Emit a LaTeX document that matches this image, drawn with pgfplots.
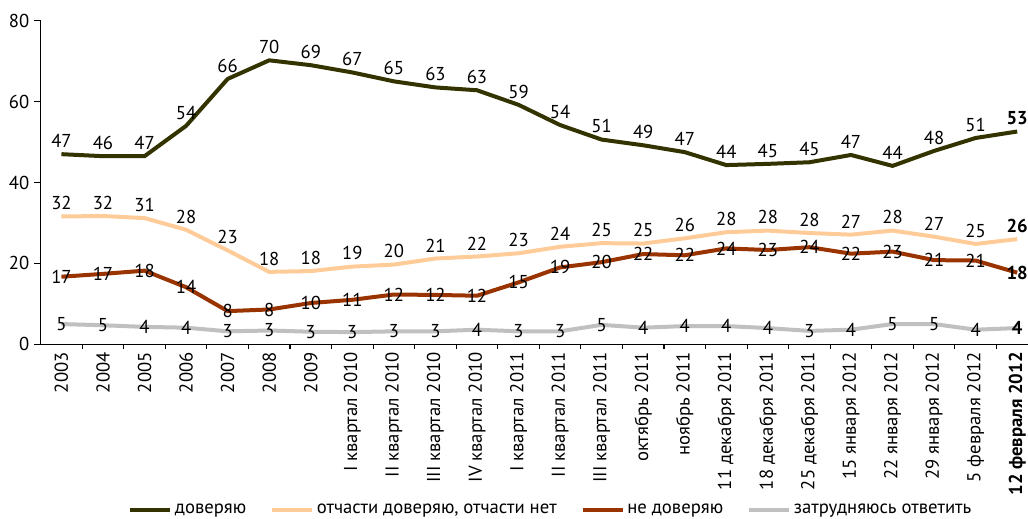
\documentclass[border=0pt]{standalone}
\usepackage{pgfplots}
\pgfplotsset{compat=1.18}
\usepackage{fontspec}
\setmainfont{PT Sans}
\definecolor{cTrust}{HTML}{333300}
\definecolor{cPart}{HTML}{FFCC99}
\definecolor{cNo}{HTML}{993300}
\definecolor{cDk}{HTML}{C0C0C0}

\begin{document}
\begin{tikzpicture}
\begin{axis}[
    scale only axis,
    width=740.5pt, height=242.7pt,
    xmin=-0.5, xmax=23.26, ymin=0, ymax=80,
    clip=false,
    axis lines=left,
    axis line style={-, black, line width=0.8pt},
    font=\fontsize{14}{16}\selectfont,
    ytick={0,20,40,60,80},
    ytick align=outside,
    yticklabel style={/pgf/number format/assume math mode=true},
    ytick style={black, line width=0.8pt},
    major tick length=5pt,
    xtick={0,...,23},
    xtick style={draw=none},
    xticklabels={2003,2004,2005,2006,2007,2008,2009,
        I квартал 2010,II квартал 2010,III квартал 2010,IV квартал 2010,
        I квартал 2011,II квартал 2011,III квартал 2011,
        октябрь 2011,ноябрь 2011,
        11 декабря 2011,18 декабря 2011,25 декабря 2011,
        15 января 2012,22 января 2012,29 января 2012,
        5 февраля 2012,\textbf{12 февраля 2012}},
    x tick label style={rotate=90, anchor=east},
    unbounded coords=jump,
    legend columns=4,
    legend style={at={(0.517,-0.512)}, anchor=center, draw=none,
        font=\fontsize{14}{16}\selectfont,
        /tikz/every even column/.append style={column sep=16pt}},
    legend image code/.code={\draw[#1, line width=3pt] (0pt,0pt) -- (30pt,0pt);},
    every node near coord/.append style={text=black},
]
% category separators on the x axis
\addplot[black, line width=0.8pt, forget plot] coordinates {
    (0.5,0) (0.5,-1.2) (nan,nan) (1.5,0) (1.5,-1.2) (nan,nan)
    (2.5,0) (2.5,-1.2) (nan,nan) (3.5,0) (3.5,-1.2) (nan,nan)
    (4.5,0) (4.5,-1.2) (nan,nan) (5.5,0) (5.5,-1.2) (nan,nan)
    (6.5,0) (6.5,-1.2) (nan,nan) (7.5,0) (7.5,-1.2) (nan,nan)
    (8.5,0) (8.5,-1.2) (nan,nan) (9.5,0) (9.5,-1.2) (nan,nan)
    (10.5,0) (10.5,-1.2) (nan,nan) (11.5,0) (11.5,-1.2) (nan,nan)
    (12.5,0) (12.5,-1.2) (nan,nan) (13.5,0) (13.5,-1.2) (nan,nan)
    (14.5,0) (14.5,-1.2) (nan,nan) (15.5,0) (15.5,-1.2) (nan,nan)
    (16.5,0) (16.5,-1.2) (nan,nan) (17.5,0) (17.5,-1.2) (nan,nan)
    (18.5,0) (18.5,-1.2) (nan,nan) (19.5,0) (19.5,-1.2) (nan,nan)
    (20.5,0) (20.5,-1.2) (nan,nan) (21.5,0) (21.5,-1.2) (nan,nan)
    (22.5,0) (22.5,-1.2)
};
% доверяю
\addplot[cTrust, line width=3pt, point meta=explicit symbolic, nodes near coords] coordinates {
    (0,47)[47] (1,46.5)[46] (2,46.5)[47] (3,54)[54] (4,65.6)[66] (5,70.2)[70]
    (6,69)[69] (7,67.2)[67] (8,65)[65] (9,63.5)[63] (10,62.8)[63] (11,59.2)[59]
    (12,54.2)[54] (13,50.6)[51] (14,49.2)[49] (15,47.5)[47] (16,44.3)[44]
    (17,44.6)[45] (18,45)[45] (19,46.8)[47] (20,44.1)[44] (21,47.8)[48]
    (22,51)[51] (23,52.6)[\textbf{53}]
};
% отчасти
\addplot[cPart, line width=3pt, point meta=explicit symbolic, nodes near coords] coordinates {
    (0,31.6)[32] (1,31.7)[32] (2,31.2)[31] (3,28.3)[28] (4,23.2)[23] (5,17.9)[18]
    (6,18.1)[18] (7,19.2)[19] (8,19.7)[20] (9,21.2)[21] (10,21.7)[22] (11,22.5)[23]
    (12,24.1)[24] (13,25)[25] (14,24.9)[25] (15,26.2)[26] (16,27.7)[28]
    (17,28.1)[28] (18,27.5)[28] (19,27.1)[27] (20,28.1)[28] (21,26.6)[27]
    (22,24.8)[25] (23,26)[\textbf{26}]
};
% не доверяю
\addplot[cNo, line width=3pt, point meta=explicit symbolic, nodes near coords,
    every node near coord/.append style={anchor=center}] coordinates {
    (0,16.7)[17] (1,17.4)[17] (2,18.2)[18] (3,14.1)[14] (4,8.2)[8] (5,8.6)[8]
    (6,10.2)[10] (7,11)[11] (8,12.3)[12] (9,12.2)[12] (10,12)[12] (11,15.3)[15]
    (12,19)[19] (13,20.3)[20] (14,22.3)[22] (15,22)[22] (16,23.7)[24]
    (17,23.3)[23] (18,24)[24] (19,22.4)[22] (20,22.9)[23] (21,20.8)[21]
    (22,20.7)[21] (23,17.7)[\textbf{18}]
};
% затрудняюсь ответить
\addplot[cDk, line width=3pt, point meta=explicit symbolic, nodes near coords,
    every node near coord/.append style={anchor=center}] coordinates {
    (0,5)[5] (1,4.7)[5] (2,4.3)[4] (3,4.1)[4] (4,3.2)[3] (5,3.4)[3]
    (6,3.1)[3] (7,3)[3] (8,3.2)[3] (9,3.2)[3] (10,3.6)[4] (11,3.2)[3]
    (12,3.2)[3] (13,4.8)[5] (14,4.1)[4] (15,4.5)[4] (16,4.5)[4]
    (17,4)[4] (18,3.3)[3] (19,3.6)[4] (20,5)[5] (21,5)[5]
    (22,3.6)[4] (23,4)[\textbf{4}]
};
\legend{доверяю, {отчасти доверяю, отчасти нет}, не доверяю, затрудняюсь ответить}
\end{axis}
\pgfresetboundingbox
\useasboundingbox (-30.5pt,-130.3pt) rectangle (740.5pt,258.2pt);
\end{tikzpicture}
\end{document}
